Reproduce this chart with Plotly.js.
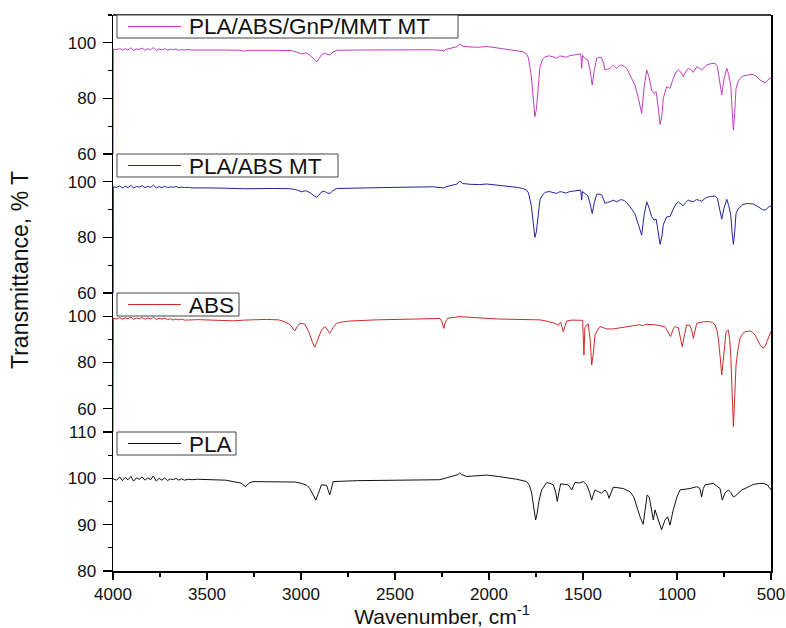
<!DOCTYPE html>
<html>
<head>
<meta charset="utf-8">
<script src="https://cdn.plot.ly/plotly-3.0.1.min.js"></script>
<style>html,body{margin:0;padding:0;background:#fff;}#chart{width:786px;height:628px;}</style>
</head>
<body>
<div id="chart"></div>
<script>
// Series names
const seriesNames = ["PLA/ABS/GnP/MMT MT", "PLA/ABS MT", "ABS", "PLA"];

// PLA/ABS/GnP/MMT MT
const wnMMT = [4000,3998,3980,3965,3950,3935,3920,3905,3890,3875,3860,3845,3830,3815,3800,3785,3770,3755,3740,3725,3710,3695,3680,3665,3650,3635,3620,3600,3580,3550,3500,3400,3320,3300,3280,3150,3050,3020,2997,2975,2950,2930,2917,2905,2890,2875,2860,2847,2830,2810,2700,2500,2300,2250,2240,2230,2200,2170,2155,2140,2100,2050,2012,1980,1950,1900,1850,1820,1800,1790,1775,1765,1756,1748,1740,1729,1715,1702,1680,1660,1640,1625,1614,1600,1587,1570,1552,1530,1512,1507,1503,1490,1474,1462,1451,1440,1427,1410,1401,1390,1383,1370,1357,1339,1321,1305,1294,1280,1268,1250,1224,1205,1188,1175,1161,1148,1135,1122,1111,1100,1090,1080,1073,1055,1037,1020,1005,993,980,967,955,940,925,913,903,895,880,869,855,842,820,798,785,775,762,750,735,725,714,707,700,693,686,675,665,650,629,610,594,575,558,545,532,520,509,500];
const tMMT = [40,97.7,97.5,98.0,97.3,97.9,97.4,98.2,97.2,97.8,97.6,98.1,97.3,97.9,97.5,98.3,97.2,97.8,97.4,97.9,97.3,97.7,97.5,97.8,97.3,97.6,97.4,97.6,97.4,97.5,97.4,97.4,97.3,97.0,97.3,97.3,97.2,96.6,96.0,96.4,95.5,94.0,93.1,94.2,95.8,96.2,95.8,95.6,96.6,97.3,97.4,97.5,97.5,97.3,97.0,97.6,98.0,98.6,99.6,98.8,98.5,98.4,98.7,98.4,98.2,97.8,97.3,96.8,96.0,94.5,88,80,73.4,76,84,91.4,94.0,95.0,95.3,95.0,94.4,95.2,95.2,94.9,94.8,95.4,95.6,95.7,96.0,90.8,95.5,94.4,93.8,90,84.8,90,94.4,94.8,94.6,92.5,90.2,90.5,90.8,92,90.8,91.8,92,91.5,90.8,88.4,84.8,80,74.6,84,90.2,87.5,83,81.8,82.4,77,70.6,74,80,84.2,83.6,87.2,89.5,90.2,89.5,87.8,89.5,90.8,90.3,89.4,90.5,91.4,90.8,90.2,91.2,92,92.5,92.6,91.5,87,81.2,87,90.8,88.5,84.8,76,68.6,75,83.6,86,87.2,88.0,88.4,88.6,88.6,87.8,86.6,86.0,85.6,86.2,87.2,87.0];

// PLA/ABS MT
const wnMT = [4000,3998,3980,3965,3950,3935,3920,3905,3890,3875,3860,3845,3830,3815,3800,3785,3770,3755,3740,3725,3710,3695,3680,3665,3650,3635,3620,3600,3580,3550,3500,3400,3300,3150,3050,3020,2997,2975,2950,2930,2917,2905,2890,2875,2860,2847,2830,2810,2700,2500,2300,2250,2240,2230,2200,2170,2155,2140,2100,2050,2012,1980,1950,1900,1850,1820,1800,1790,1775,1765,1756,1748,1740,1729,1715,1702,1680,1660,1640,1625,1614,1600,1587,1570,1552,1530,1512,1507,1503,1490,1474,1462,1451,1440,1427,1410,1401,1390,1383,1370,1357,1339,1321,1305,1294,1280,1268,1250,1224,1205,1188,1175,1161,1148,1135,1122,1111,1100,1090,1080,1073,1055,1037,1020,1005,993,980,967,955,940,925,913,903,895,880,869,855,842,820,798,785,775,762,750,735,725,714,707,700,693,686,675,665,650,629,610,594,575,558,545,532,520,509,500];
const tMT = [40,98.2,98.0,98.5,97.8,98.4,97.9,98.7,97.8,98.3,98.1,98.6,97.9,98.4,98.0,98.8,97.8,98.3,97.9,98.4,97.9,98.2,98.0,98.3,97.9,98.1,97.9,98.0,97.8,97.9,97.8,97.7,97.5,97.6,97.5,97.0,96.4,96.8,96.0,94.9,94.4,95.2,96.4,96.6,96.0,95.8,96.8,97.6,97.8,98.0,98.2,98.0,97.8,98.2,98.6,99.2,100.3,99.4,99.1,99.0,99.2,99.0,98.8,98.4,98.0,97.6,97.0,96.0,91.5,85.5,80.0,82,88,93.5,95.3,96.2,96.5,96.2,95.8,96.4,96.4,96.1,96.0,96.5,96.7,96.8,97.0,93.4,96.5,95.8,95.0,92,88.6,92.5,95.5,95.6,95.3,93.5,92.2,92.6,92.8,93.4,92.8,93.4,93.6,93.2,92.6,91,88.5,84.5,80.8,88,92.8,90.5,87.5,86.2,86.6,82,77.5,80.5,84.5,87.4,87.5,90.2,92.0,92.8,92.2,91.4,92.4,93.4,93.0,92.8,93.3,93.6,93.3,93.0,93.8,94.4,94.7,94.9,94.0,90.5,86.6,90.5,93.7,91.5,88,82,77.5,82,88.6,90.2,91,91.8,92.2,92.2,92,91.3,90.4,90.0,89.8,90.4,91.3,91.0];

// ABS
const wnABS = [4000,3998,3980,3965,3950,3935,3920,3905,3890,3875,3860,3845,3830,3815,3800,3785,3770,3755,3740,3725,3710,3695,3680,3665,3650,3635,3620,3600,3580,3550,3500,3400,3362,3300,3184,3120,3086,3060,3045,3033,3020,3006,2980,2960,2940,2927,2915,2900,2891,2873,2860,2847,2830,2811,2780,2740,2600,2400,2300,2260,2250,2240,2232,2220,2155,2050,1960,1850,1729,1700,1670,1649,1631,1619,1605,1595,1587,1560,1520,1502,1495,1490,1481,1472,1462,1454,1445,1436,1420,1410,1390,1374,1339,1300,1250,1200,1180,1170,1120,1090,1065,1055,1045,1034,1020,1011,993,982,972,960,949,931,920,913,905,895,860,824,810,798,788,780,770,762,755,745,739,727,720,714,707,700,693,686,675,665,650,638,612,598,585,570,558,541,530,522,505,500];
const tABS = [45,99.1,98.8,99.4,98.7,99.3,98.9,99.6,98.6,99.2,98.9,99.4,98.7,99.2,98.8,99.5,98.6,99.1,98.7,99.2,98.5,98.9,98.3,98.8,98.4,98.7,98.3,98.5,98.4,98.5,98.4,98.2,98.0,98.3,98.6,98.4,97.6,96.5,95,93.6,95.5,96.9,96.6,93.5,89,86.6,89,92.5,94,95.5,94,92.6,95,96.9,97.5,97.9,98.4,98.8,99.1,99.0,97.5,94.7,97.5,99.1,99.8,99.3,98.8,98.6,98.4,98.0,97.5,96.9,96.0,97.5,93.3,96.5,97.9,98.3,98.4,98.2,83.2,95,96.2,96.7,90,78.9,84,91.9,94.5,95.5,95.0,94.5,94.5,95.0,95.5,96.3,95.8,96.5,96.3,95.9,95.5,94.2,92.5,91.2,94.5,95.5,95.0,91,86.8,92,96.2,96.0,93.5,90.4,93,96.9,97.6,97.6,97.2,96.2,94,90.4,82,74.6,80,90,93.3,94.0,90,83.2,65,52.3,65,78.9,86,90.4,92.5,93.3,93.6,93.0,91.9,89.5,87.6,86.1,87.2,89,92.6,93.5];

// PLA
const wnPLA = [4000,3980,3965,3950,3935,3920,3905,3890,3875,3860,3845,3830,3815,3800,3785,3770,3755,3740,3725,3710,3695,3680,3665,3650,3635,3620,3600,3580,3550,3500,3400,3361,3320,3295,3275,3255,3095,3030,2997,2970,2953,2935,2921,2910,2891,2864,2855,2847,2840,2829,2700,2500,2350,2261,2226,2190,2165,2155,2145,2119,2060,2013,1950,1900,1853,1800,1785,1773,1762,1752,1744,1735,1720,1693,1675,1658,1645,1637,1628,1619,1578,1560,1543,1520,1498,1481,1465,1454,1445,1436,1418,1401,1383,1370,1362,1350,1339,1286,1250,1230,1214,1195,1180,1170,1159,1148,1135,1126,1117,1100,1082,1064,1050,1037,1020,1000,984,931,895,878,869,860,851,807,771,759,745,727,715,700,690,673,655,638,594,560,541,520,505,500];
const tPLA = [99.9,99.6,100.3,99.5,100.2,99.7,100.4,99.4,100.1,99.8,100.3,99.6,100.1,99.7,100.5,99.4,100.0,99.6,100.1,99.5,99.9,99.7,100.0,99.6,99.9,99.6,99.8,99.7,99.8,99.7,99.6,99.3,99.0,98.2,99.0,99.3,99.3,99.2,98.9,98.5,97.8,96.5,95.3,96.5,98.6,98.5,97.5,96.4,97.5,99.3,99.5,99.6,99.6,99.7,100.1,100.5,100.8,101.2,100.8,100.4,100.5,100.7,100.4,100.1,99.8,99.3,98.5,96.8,93.5,91,92.4,95,97.5,99.1,98.9,98.6,97,95,97,98.8,98.6,97.5,99.1,99.0,99.3,98.6,97,95.3,96.5,97.5,97.1,96.8,97.5,96.8,95.7,97,98.1,97.8,97.1,96,93.9,91.5,90.1,93,96.4,96.0,93.2,91,93.2,91,88.9,91,91.7,89.9,93.2,96,97.5,97.8,98.2,97.8,96,97.8,98.6,98.9,97.8,95.3,96.8,97.5,97,96,96.2,96.8,97.5,97.8,98.7,98.9,98.9,98.6,97.6,97.5];

const colors = ["#c33cc3", "#23239a", "#cc2b2b", "#111111"];
const FONT = "Liberation Sans, Arial, Helvetica, sans-serif";

const xs = [wnMMT, wnMT, wnABS, wnPLA];
const ys = [tMMT, tMT, tABS, tPLA];
const yIds = ["y", "y2", "y3", "y4"];

const traces = seriesNames.map((name, i) => ({
  type: "scatter", mode: "lines", name: name,
  x: xs[i], y: ys[i], xaxis: "x", yaxis: yIds[i],
  line: {color: colors[i], width: 1},
  showlegend: false, hoverinfo: "skip"
}));

const domains = [[0.75, 1], [0.5, 0.75], [0.25, 0.5], [0, 0.25]];
const ranges = [[60, 110], [60, 110], [50, 110], [80, 110]];
const dticks = [20, 20, 20, 10];

function yax(i) {
  return {
    domain: domains[i], range: ranges[i], anchor: "x",
    dtick: dticks[i], tick0: 0,
    ticks: "outside", ticklen: 9, tickwidth: 1.2, tickcolor: "#000",
    minor: {dtick: dticks[i] / 2, ticks: "outside", ticklen: 4, tickwidth: 1.2, tickcolor: "#000", showgrid: false},
    showline: true, mirror: true, linecolor: "#000", linewidth: 1.5,
    showgrid: false, zeroline: false,
    tickfont: {family: FONT, size: 17, color: "#111"},
    ticklabelstandoff: 3
  };
}

// Legend boxes (pixel geometry of plot area: left 113, width 658; bottom 571, height 556)
const PX_L = 113, PX_W = 658, PX_B = 571, PX_H = 556;
const px = v => (v - PX_L) / PX_W;
const py = v => (PX_B - v) / PX_H;
const boxTop = [15, 154, 293, 432];
const boxWidth = [341, 221, 122, 119];
const boxH = 23;

const shapes = [
  {type: "line", xref: "paper", yref: "paper", x0: 0, x1: 1, y0: 1, y1: 1, line: {color: "#000", width: 1.5}}
];
const annotations = [
  {text: "Transmittance, % T", xref: "paper", yref: "paper", x: px(20), y: py(270),
   xanchor: "center", yanchor: "middle", textangle: -90, showarrow: false,
   font: {family: FONT, size: 23, color: "#111"}}
];
seriesNames.forEach((name, i) => {
  const top = boxTop[i], left = 117, right = 117 + boxWidth[i];
  shapes.push({type: "rect", xref: "paper", yref: "paper", layer: "above",
    x0: px(left), x1: px(right), y0: py(top + boxH), y1: py(top),
    fillcolor: "#fff", line: {color: "#444", width: 1}});
  shapes.push({type: "line", xref: "paper", yref: "paper", layer: "above",
    x0: px(128), x1: px(181), y0: py(top + boxH / 2), y1: py(top + boxH / 2),
    line: {color: colors[i], width: 1}});
  annotations.push({text: name, xref: "paper", yref: "paper", showarrow: false,
    x: px(187), y: py(top + boxH / 2 + 0.5), xanchor: "left", yanchor: "middle",
    font: {family: FONT, size: 22.5, color: "#111"}});
});

const layout = {
  width: 786, height: 628,
  margin: {l: 113, r: 15, t: 15, b: 57},
  paper_bgcolor: "#fff", plot_bgcolor: "#fff",
  font: {family: FONT, color: "#111"},
  showlegend: false,
  xaxis: {
    range: [4000, 500], anchor: "y4", dtick: 500, tick0: 0,
    ticks: "outside", ticklen: 7, tickwidth: 1.2, tickcolor: "#000",
    minor: {dtick: 250, ticks: "outside", ticklen: 4, tickwidth: 1.2, tickcolor: "#000", showgrid: false},
    showline: true, linecolor: "#000", linewidth: 1.5,
    showgrid: false, zeroline: false,
    tickfont: {family: FONT, size: 17, color: "#111"},
    title: {text: "Wavenumber, cm<sup>-1</sup>", font: {family: FONT, size: 21, color: "#111"}, standoff: 0}
  },
  yaxis: yax(0), yaxis2: yax(1), yaxis3: yax(2), yaxis4: yax(3),
  shapes: shapes,
  annotations: annotations
};

Plotly.newPlot("chart", traces, layout, {displayModeBar: false, staticPlot: true});
</script>
</body>
</html>
